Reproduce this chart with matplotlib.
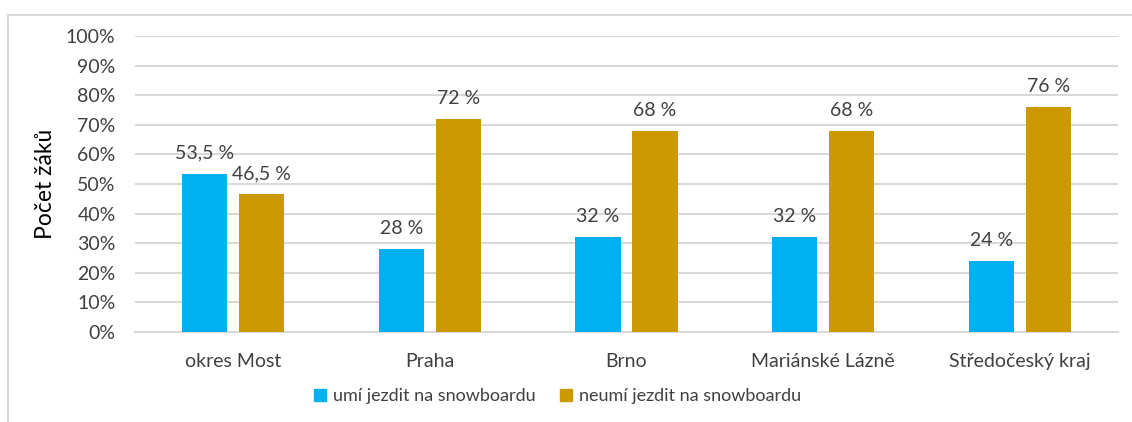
import numpy as np
import matplotlib
matplotlib.use('Agg')
from matplotlib import pyplot as plt
from matplotlib.lines import Line2D

plt.rcParams['font.family'] = ['Lato', 'DejaVu Sans']

categories = ['okres Most', 'Praha', 'Brno', 'Mariánské Lázně', 'Středočeský kraj']
umi = [53.5, 28, 32, 32, 24]
neumi = [46.5, 72, 68, 68, 76]
series_names = ['umí jezdit na snowboardu', 'neumí jezdit na snowboardu']
yticks = np.arange(0, 101, 10)

blue = '#00b0f0'
gold = '#cc9900'
grid = '#d9d9d9'
txt = '#404040'

def fmt(v):
    s = ('%.1f' % v).replace('.', ',') if v % 1 else '%d' % v
    return s + ' %'

fig = plt.figure(figsize=(11.32, 4.22), dpi=100)
ax = fig.add_axes([135/1132, 90/422, 983/1132, 296/422])

x = np.arange(len(categories))
w = 0.229
off = 0.145
b1 = ax.bar(x - off, umi, w, color=blue, zorder=3)
b2 = ax.bar(x + off, neumi, w, color=gold, zorder=3)
for bars, vals in ((b1, umi), (b2, neumi)):
    for b, v in zip(bars, vals):
        ax.annotate(fmt(v), (b.get_x() + b.get_width() / 2, v), xytext=(0, 12),
                    textcoords='offset pixels', ha='center', va='bottom',
                    fontsize=14, color=txt)

ax.set_xlim(-0.5, len(categories) - 0.5)
ax.set_ylim(0, 100)
ax.set_yticks(yticks)
ax.set_yticklabels(['%d%%' % t for t in yticks], fontsize=14, color=txt)
ax.set_xticks(x)
ax.set_xticklabels(categories, fontsize=14, color=txt)
ax.tick_params(axis='both', length=0)
ax.tick_params(axis='y', pad=14)
ax.tick_params(axis='x', pad=15)
ax.yaxis.grid(True, color=grid, linewidth=1.5, zorder=0)
for s in ['top', 'right', 'left']:
    ax.spines[s].set_visible(False)
ax.spines['bottom'].set_color(grid)
ax.spines['bottom'].set_linewidth(1.5)
ax.set_ylabel('Počet žáků', fontsize=16.5, color='black', labelpad=7)

handles = [Line2D([], [], marker='s', linestyle='none', markersize=9, color=c)
           for c in (blue, gold)]
fig.legend(handles, series_names, loc='center', bbox_to_anchor=(557/1132, 1 - 396/422),
           ncol=2, frameon=False, fontsize=13, handlelength=0.8, handletextpad=0.3,
           columnspacing=1.3, labelcolor=txt)

# chart area border
fig.add_artist(Line2D([8/1132, 8/1132], [0, 1 - 15/422], transform=fig.transFigure,
                      color=grid, linewidth=1.5))
fig.add_artist(Line2D([8/1132, 1], [1 - 15/422, 1 - 15/422], transform=fig.transFigure,
                      color=grid, linewidth=1.5))

fig.savefig('out.png', dpi=100, facecolor='white')
